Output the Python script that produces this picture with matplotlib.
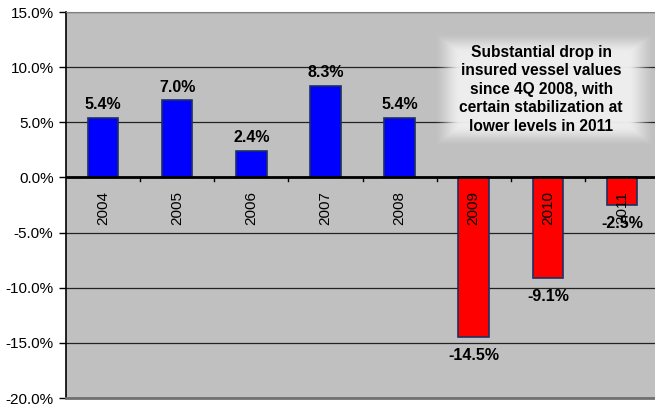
import numpy as np
import matplotlib.pyplot as plt
from matplotlib.ticker import FuncFormatter

plt.rcParams['font.family'] = ['Liberation Sans', 'DejaVu Sans']

# yearly change in insured vessel values
years = ['2004', '2005', '2006', '2007', '2008', '2009', '2010', '2011']
change = [5.4, 7.0, 2.4, 8.3, 5.4, -14.5, -9.1, -2.5]
note = ("Substantial drop in\ninsured vessel values\nsince 4Q 2008, with\n"
        "certain stabilization at\nlower levels in 2011")

fig = plt.figure(figsize=(6.55, 4.07), dpi=100)
ax = fig.add_axes([66 / 655, 9 / 407, 593 / 655, 386 / 407])
ax.set_facecolor('#C0C0C0')

x = np.arange(len(years))
colors = ['#0000FF' if v >= 0 else '#FF0000' for v in change]
ax.bar(x, change, width=0.41, color=colors, edgecolor='#1F3060', linewidth=1.2, zorder=3)

ax.set_ylim(-20, 15)
ax.set_yticks(np.arange(-20, 15.1, 5))
ax.yaxis.set_major_formatter(FuncFormatter(lambda v, p: f"{v:.1f}%"))
ax.tick_params(axis='y', labelsize=11, length=5, width=1, direction='out', pad=4)
ax.grid(axis='y', color='#222222', linewidth=0.9, zorder=1)

# category ticks sit on the zero line between the bars
ax.set_xticks([])
for k in range(1, len(years)):
    ax.plot([k - 0.5, k - 0.5], [0, -0.35], color='black', lw=1, zorder=4)
ax.axhline(0, color='black', lw=2, zorder=4)

for s in ['top', 'right']:
    ax.spines[s].set_color('#808080')
ax.spines['bottom'].set_color('#707070')
ax.spines['bottom'].set_linewidth(2)
ax.spines['left'].set_color('black')
ax.spines['left'].set_linewidth(1.2)

for i, (yr, v) in enumerate(zip(years, change)):
    ax.annotate(yr, (i, 0), xytext=(0, -10), textcoords='offset points',
                rotation=90, ha='center', va='top', fontsize=11, zorder=5)
    if v >= 0:
        ax.annotate(f"{v:.1f}%", (i, v), xytext=(0, 4), textcoords='offset points',
                    ha='center', va='bottom', fontsize=11.5, fontweight='bold', zorder=6)
    else:
        ax.annotate(f"{v:.1f}%", (i, v), xytext=(0, -8), textcoords='offset points',
                    ha='center', va='top', fontsize=11.5, fontweight='bold', zorder=6)

# soft-edged panel behind the note
ny, nx = 110, 210
yy, xx = np.mgrid[0:ny, 0:nx]
dx = np.minimum(xx, nx - 1 - xx) / 26.0
dy = np.minimum(yy, ny - 1 - yy) / 20.0
a = np.clip(np.minimum(dx, dy), 0, 1)
a = a * a * (3 - 2 * a)
img = np.zeros((ny, nx, 4))
img[..., :3] = 0.94
img[..., 3] = a * 0.97
ax.imshow(img, extent=(4.45, 7.45, 2.8, 13.2), aspect='auto', zorder=5, interpolation='bilinear')
ax.set_xlim(-0.5, len(years) - 0.5)
ax.set_ylim(-20, 15)
ax.text(5.91, 8.0, note, ha='center', va='center', fontsize=11.2, fontweight='bold',
        linespacing=1.3, zorder=6)

fig.savefig('out.png', dpi=100)
